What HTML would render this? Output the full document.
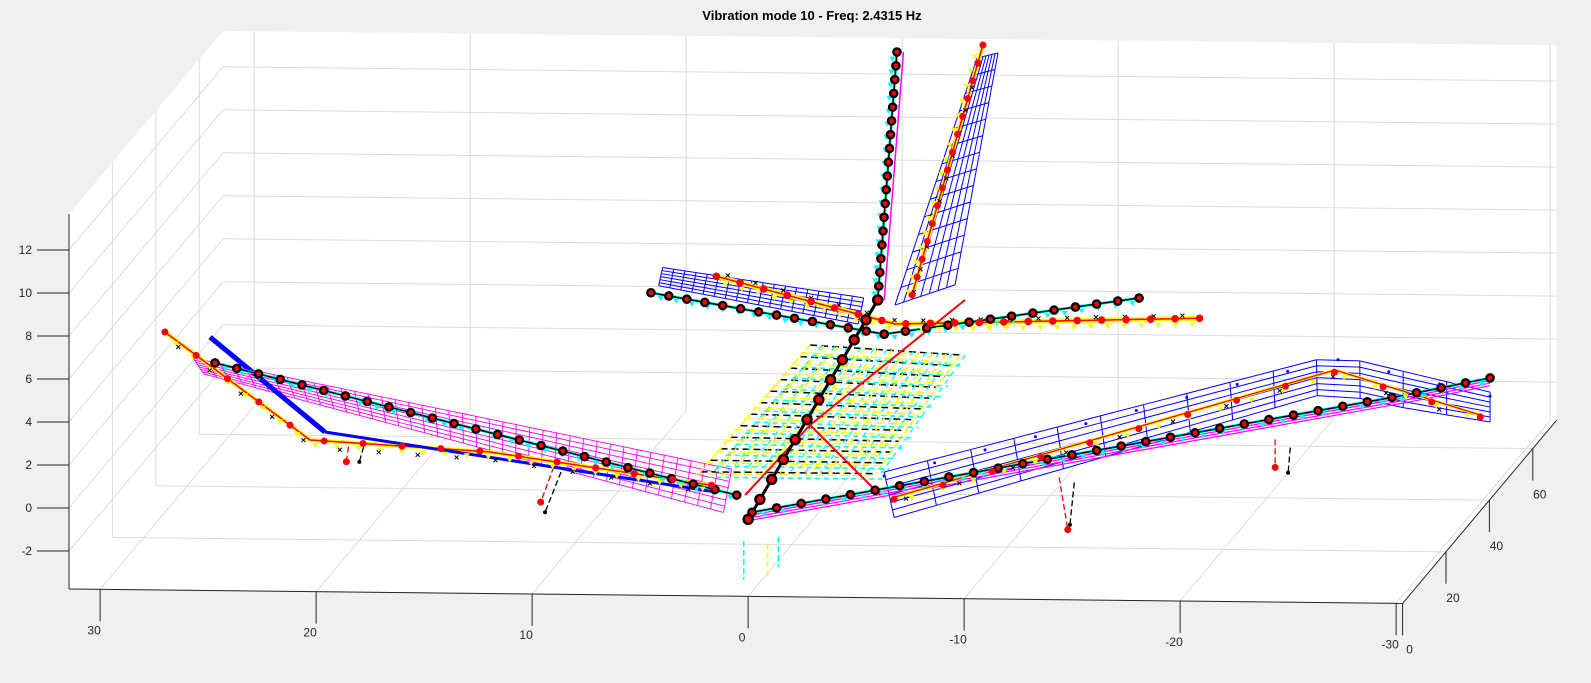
<!DOCTYPE html>
<html><head><meta charset="utf-8"><style>
html,body{margin:0;padding:0;background:#f0f0f0;}
svg{display:block;font-family:"Liberation Sans",Arial,sans-serif;}
</style></head><body>
<svg id="fig" width="1591" height="683" viewBox="0 0 1591 683" xmlns="http://www.w3.org/2000/svg">
<rect x="0" y="0" width="1591" height="683" fill="#f0f0f0"/>
<text x="812" y="20" text-anchor="middle" font-size="13" font-weight="bold" fill="#000">Vibration mode 10 - Freq: 2.4315 Hz</text>
<g id="axes"></g>
<g id="plot"></g>
</svg>
<script>
// ---- axis ranges & ticks ----
const xTicks = [30,20,10,0,-10,-20,-30];
const yTicks = [0,20,40,60];
const zTicks = [-2,0,2,4,6,8,10,12];
const xRange = [-30.3, 31.44];
const yRange = [0, 71];
const zRange = [-3.77, 13.67];

// ---- structure data (x, y, z) ----
const leftWingLE = [[25.7,0,7.04],[0.76,0,2.14]];
const leftWingTE = [[25.2,0,6.3],[1.14,0,0.12]];
const leftBeam = [[24.68,0,6.82],[0.53,0,0.93]];
const leftLower = [[27.0,0,8.23],[20.28,0,3.28],[12.0,0,2.82],[1.7,0,1.38]];
const leftBlue = [[24.91,0,8.02],[19.59,0,3.66]];
const leftBlueLow = [[19.59,0,3.66],[1.7,0,1.1]];
const rightWingLE = [[-6.3,0,2.08],[-27.17,0,7.75],[-34.35,0,6.1]];
const rightWingTE = [[-6.76,0,-0.03],[-26.94,0,6.03],[-30.41,0,5.32],[-34.35,0,4.71]];
const rightBeam = [[-0.18,0,0.14],[-30.41,0,5.92],[-34.35,0,6.76]];
const rightLower = [[-6.76,0,0.91],[-27.17,0,7.05],[-33.9,0,5.03]];
const fuselage = [[0,0,-0.19],[-6.0,0,10.08]];
const vFin = [[-6.0,0,10.08],[-6.89,0,21.62]];
const tFinRed = [[-7.59,0,10.33],[-10.87,0,21.99]];
const tFinLE = [[-6.8,0,9.85],[-10.6,0,21.38]];
const tFinTE = [[-9.58,0,10.82],[-11.57,0,21.63]];
const hTailBlackL = [[4.5,0,10.3],[-6.3,0,8.49]];
const hTailBlackR = [[-6.3,0,8.49],[-18.1,0,10.3]];
const hTailRed = [[1.47,0,11.1],[-6.8,0,8.97],[-20.9,0,9.39]];
const hTailLE = [[3.96,0,11.48],[-5.35,0,10.17]];
const hTailTE = [[4.14,0,10.63],[-5.1,0,8.95]];
const gridTop = [[-2.87,0,7.95],[-9.8,0,7.56]];
const gridBot = [[2.2,0,2.0],[-5.9,0,2.0]];
const braceA = [[0.14,0,0.94],[-2.87,0,4.23],[-6.11,0,1.01]];
const braceB = [[-2.87,0,4.23],[-10.04,0,10.12]];
const gearRed = [[[18.5,0,2.99],[18.6,0,2.29]],[[9.0,0,2.15],[9.6,0,0.51]],[[-14.4,0,1.92],[-14.8,0,-0.51]],[[-24.4,0,3.8],[-24.4,0,2.49]]];
const gearBlack = [[[17.8,0,2.99],[18.0,0,2.29]],[[8.66,0,1.92],[9.4,0,0.04]],[[-15.1,0,1.69],[-14.9,0,-0.28]],[[-25.1,0,3.42],[-25.0,0,2.25]]];
const dropArrows = [[[0.2,0,-1.2],[0.2,0,-3.0]],[[-0.9,0,-1.3],[-0.9,0,-2.9]],[[-1.4,0,-1.0],[-1.4,0,-2.4]]];

// ---- projection (axis functions) ----
function sx(x,y,z){return 69 + (xRange[1]-x)*21.6 + 2.17*y;}
function sy(x,y,z){return 589 + (xRange[1]-x)*0.233 - 2.58*y - 21.5*(z-zRange[0]);}
function P(p){return [sx(p[0],p[1],p[2]), sy(p[0],p[1],p[2])];}

const NS="http://www.w3.org/2000/svg";
const axes=document.getElementById('axes'), plot=document.getElementById('plot');
function mk(tag,attrs,parent){const e=document.createElementNS(NS,tag);for(const k in attrs)e.setAttribute(k,attrs[k]);(parent||plot).appendChild(e);return e;}
function line3(a,b,stroke,w,dash,name,parent){
  const A=P(a),B=P(b);
  const e=mk('line',{x1:A[0],y1:A[1],x2:B[0],y2:B[1],stroke:stroke,'stroke-width':w},parent);
  if(dash)e.setAttribute('stroke-dasharray',dash);
  
  
  return e;
}
function poly3(pts,stroke,w,name,dash){
  const e=mk('polyline',{points:pts.map(p=>P(p).join(',')).join(' '),fill:'none',stroke:stroke,'stroke-width':w,'stroke-linejoin':'round'});
  if(dash)e.setAttribute('stroke-dasharray',dash);
  
  
  return e;
}
function along(pts,t){
  let L=[0];for(let i=1;i<pts.length;i++){const a=P(pts[i-1]),b=P(pts[i]);L.push(L[i-1]+Math.hypot(b[0]-a[0],b[1]-a[1]));}
  const d=t*L[L.length-1];
  for(let i=1;i<pts.length;i++){if(d<=L[i]||i==pts.length-1){const f=(L[i]-L[i-1])?(d-L[i-1])/(L[i]-L[i-1]):0;const a=pts[i-1],b=pts[i];return [a[0]+(b[0]-a[0])*f,a[1]+(b[1]-a[1])*f,a[2]+(b[2]-a[2])*f];}}
}
function lerp(a,b,f){return [a[0]+(b[0]-a[0])*f,a[1]+(b[1]-a[1])*f,a[2]+(b[2]-a[2])*f];}
function mesh(LE,TE,nSpan,nChord,color,w,name){
  for(let i=0;i<=nSpan;i++){const t=i/nSpan;line3(along(LE,t),along(TE,t),color,w,null,name+'-rib');}
  for(let j=0;j<=nChord;j++){const f=j/nChord;const pts=[];for(let i=0;i<=nSpan;i++){const t=i/nSpan;pts.push(lerp(along(LE,t),along(TE,t),f));}poly3(pts,color,w,name+'-spar');}
}
function circleMarks(pts,n,r,name){
  for(let i=0;i<=n;i++){const p=P(along(pts,i/n));
    const c=mk('circle',{cx:p[0],cy:p[1],r:r,fill:'#ff0000',stroke:'#000','stroke-width':2.4});
    
    }
}
function dots(pts,n,r,color,name,dx,dy){
  for(let i=0;i<=n;i++){const p=P(along(pts,i/n));
    const c=mk('circle',{cx:p[0]+(dx||0),cy:p[1]+(dy||0),r:r,fill:color});
    
    }
}
function tris(pts,n,color,name,dx,dy){
  for(let i=0;i<=n;i++){const p=P(along(pts,(i+0.5)/(n+1)));const x=p[0]+dx,y=p[1]+dy;
    const t=mk('path',{d:`M${x-3},${y-2}L${x+3},${y-2}L${x},${y+3}Z`,fill:color});
    
    }
}
function crosses(pts,n,name,dx,dy){
  for(let i=0;i<=n;i++){const p=P(along(pts,(i+0.3)/(n+1)));const x=p[0]+dx,y=p[1]+dy;
    const t=mk('path',{d:`M${x-2},${y-2}L${x+2},${y+2}M${x+2},${y-2}L${x-2},${y+2}`,stroke:'#000','stroke-width':1});
    
    }
}

// ---- axes box ----
const X0=xRange[1],X1=xRange[0],Y1=yRange[1],Z0=zRange[0],Z1=zRange[1];
const hull=[[X0,0,Z0],[X0,0,Z1],[X0,Y1,Z1],[X1,Y1,Z1],[X1,Y1,Z0],[X1,0,Z0]];
const bg=mk('polygon',{points:hull.map(p=>P(p).join(',')).join(' '),fill:'#ffffff'},axes);


const G='#dcdcdc';
xTicks.forEach(v=>{line3([v,Y1,Z0],[v,Y1,Z1],G,1,null,'x-gridline',axes);line3([v,0,Z0],[v,Y1,Z0],G,1,null,'x-gridline',axes);});
yTicks.forEach(v=>{line3([X0,v,Z0],[X0,v,Z1],G,1,null,'y-gridline',axes);line3([X0,v,Z0],[X1,v,Z0],G,1,null,'y-gridline',axes);});
zTicks.forEach(v=>{line3([X0,Y1,v],[X1,Y1,v],G,1,null,'z-gridline',axes);line3([X0,0,v],[X0,Y1,v],G,1,null,'z-gridline',axes);});
line3([X0,0,Z0],[X0,0,Z1],'#262626',1,null,'z-axis-line',axes);
line3([X0,0,Z0],[X1,0,Z0],'#262626',1,null,'x-axis-line',axes);
line3([X1,0,Z0],[X1,Y1,Z0],'#262626',1,null,'y-axis-line',axes);
zTicks.forEach(v=>{const p=P([X0,0,v]);
  const t=mk('line',{x1:p[0]-32,y1:p[1],x2:p[0],y2:p[1],stroke:'#262626','stroke-width':1},axes);
  
  
  const l=mk('text',{x:p[0]-37,y:p[1]+4,'text-anchor':'end','font-size':12,fill:'#262626'},axes);l.textContent=v;
  
  });
xTicks.forEach(v=>{const p=P([v,0,Z0]);
  const t=mk('line',{x1:p[0],y1:p[1],x2:p[0],y2:p[1]+32,stroke:'#262626','stroke-width':1},axes);
  
  
  const l=mk('text',{x:p[0]-6,y:p[1]+45,'text-anchor':'middle','font-size':12,fill:'#262626'},axes);l.textContent=v;
  
  });
yTicks.forEach(v=>{const p=P([X1,v,Z0]);
  const t=mk('line',{x1:p[0],y1:p[1],x2:p[0],y2:p[1]+32,stroke:'#262626','stroke-width':1},axes);
  
  
  const l=mk('text',{x:p[0]+7,y:p[1]+50,'text-anchor':'middle','font-size':12,fill:'#262626'},axes);l.textContent=v;
  
  });

// ---- structure ----
mesh(leftWingLE,leftWingTE,40,7,'#ff00ff',0.9,'left-wing-mesh');
mesh(rightWingLE,rightWingTE,14,6,'#0000ff',1,'right-wing-mesh');
mesh(hTailLE,hTailTE,18,6,'#0000ff',1,'htail-mesh');
mesh(tFinLE,tFinTE,14,7,'#0000ff',1,'tilted-fin-mesh');
for(let k=0;k<4;k++){poly3(rightBeam.map(p=>[p[0],p[1],p[2]-0.12*k]),'#ff00ff',1.2,'right-wing-magenta');}
poly3(vFin.map(p=>[p[0]-0.3,p[1],p[2]]),'#ff00ff',1.5,'vfin-magenta');
// fuselage grid block
for(let i=0;i<=11;i++){const f=i/11;line3(lerp(gridTop[0],gridBot[0],f),lerp(gridTop[1],gridBot[1],f),'#000',1.5,'7,4','grid-dashed-black');}
for(let i=0;i<=11;i++){const f=i/11;line3(lerp(gridTop[0],gridTop[1],f),lerp(gridBot[0],gridBot[1],f),'#ffff00',1.6,'6,3','grid-dashed-yellow');}
for(let i=0;i<=11;i++){const f=(i+0.5)/11.5;const a=lerp(gridTop[0],gridBot[0],f),b=lerp(gridTop[1],gridBot[1],f);line3([a[0]-0.3,0,a[2]-0.25],[b[0]-0.3,0,b[2]-0.25],'#00ffff',1.5,'5,4','grid-dashed-cyan');}
for(let i=0;i<=11;i++){const f=(i+0.5)/11.5;const a=lerp(gridTop[0],gridTop[1],f),b=lerp(gridBot[0],gridBot[1],f);line3([a[0]-0.25,0,a[2]],[b[0]-0.25,0,b[2]],'#00ffff',1.3,'5,5','grid-dashed-cyan-v');}
for(let i=0;i<=11;i++){const f=(i+0.5)/11.5;const a=lerp(gridTop[0],gridBot[0],f),b=lerp(gridTop[1],gridBot[1],f);line3([a[0]+0.2,0,a[2]-0.1],[b[0]+0.2,0,b[2]-0.1],'#ffff00',1.3,'8,4','grid-dashed-yellow2');}
poly3(leftLower,'#ffff00',4,'left-lower-yellow');
poly3(leftLower,'#ff0000',1.5,'left-lower-red');
poly3(leftBlue,'#0000ff',5,'left-blue-thick');
poly3(leftBlueLow,'#0000ff',3,'left-blue-low');
poly3(rightLower,'#ffff00',3,'right-lower-yellow');
poly3(rightLower,'#ff0000',1.3,'right-lower-red');
poly3(hTailRed,'#ffff00',5,'htail-yellow');
poly3(hTailRed,'#ff0000',1.5,'htail-red');
poly3(tFinRed,'#ffff00',4,'tfin-yellow');
poly3(tFinRed,'#ff0000',1.5,'tfin-red');
poly3(braceA,'#ff0000',2,'brace-red');
poly3(braceB,'#ff0000',2,'brace-red-diag');
[leftBeam,rightBeam,vFin,hTailBlackL,hTailBlackR].forEach(b=>{poly3(b,'#00ffff',3,'beam-cyan');poly3(b,'#000',1.5,'beam-black');});
poly3(fuselage,'#000',3,'fuselage-line');
gearRed.forEach(g=>{line3(g[0],g[1],'#ff0000',1.3,'6,3','gear-red');const p=P(g[1]);const c=mk('circle',{cx:p[0],cy:p[1],r:3.5,fill:'#ff0000'});});
gearBlack.forEach(g=>{line3(g[0],g[1],'#000',1.3,'6,3','gear-black');const p=P(g[1]);const c=mk('circle',{cx:p[0],cy:p[1],r:2,fill:'#000'});});
dropArrows.forEach((g,i)=>{line3(g[0],g[1],i==1?'#ffff00':'#00ffff',1.5,'6,3','drop-arrow');});
tris(leftBeam,30,'#00ffff','cyan-marker',2,4);
tris(rightBeam,36,'#00ffff','cyan-marker',2,4);
tris(vFin,18,'#00ffff','cyan-marker',-4,0);
tris(hTailBlackL,14,'#00ffff','cyan-marker',2,4);
tris(hTailBlackR,14,'#00ffff','cyan-marker',2,4);
tris(leftLower,26,'#ffff00','yellow-marker',2,5);
tris(rightLower,18,'#ffff00','yellow-marker',2,5);
tris(hTailRed,28,'#ffff00','yellow-marker',1,6);
tris(tFinRed,16,'#ffff00','yellow-marker',-6,4);
crosses(leftLower,14,'x-marker',4,8);
crosses(rightLower,10,'x-marker',-4,6);
crosses(hTailRed,16,'x-marker',3,-3);
crosses(tFinRed,10,'x-marker',0,4);
circleMarks(leftBeam,24,3.6,'beam-node');
circleMarks(rightBeam,30,3.6,'beam-node');
circleMarks(vFin,18,3.6,'beam-node');
circleMarks(hTailBlackL,13,3.6,'beam-node');
circleMarks(hTailBlackR,12,3.6,'beam-node');
circleMarks(fuselage,11,4.5,'fuselage-node');
dots(leftLower,15,3.5,'#ff0000','red-node',0,0);
dots(rightLower,12,3.5,'#ff0000','red-node',0,2);
dots(hTailRed,20,3.8,'#ff0000','red-node',0,0);
dots(tFinRed,14,3.5,'#ff0000','red-node',0,0);
dots(rightWingLE,12,1.5,'#0000ff','blue-node',0,4);
</script>
</body></html>
